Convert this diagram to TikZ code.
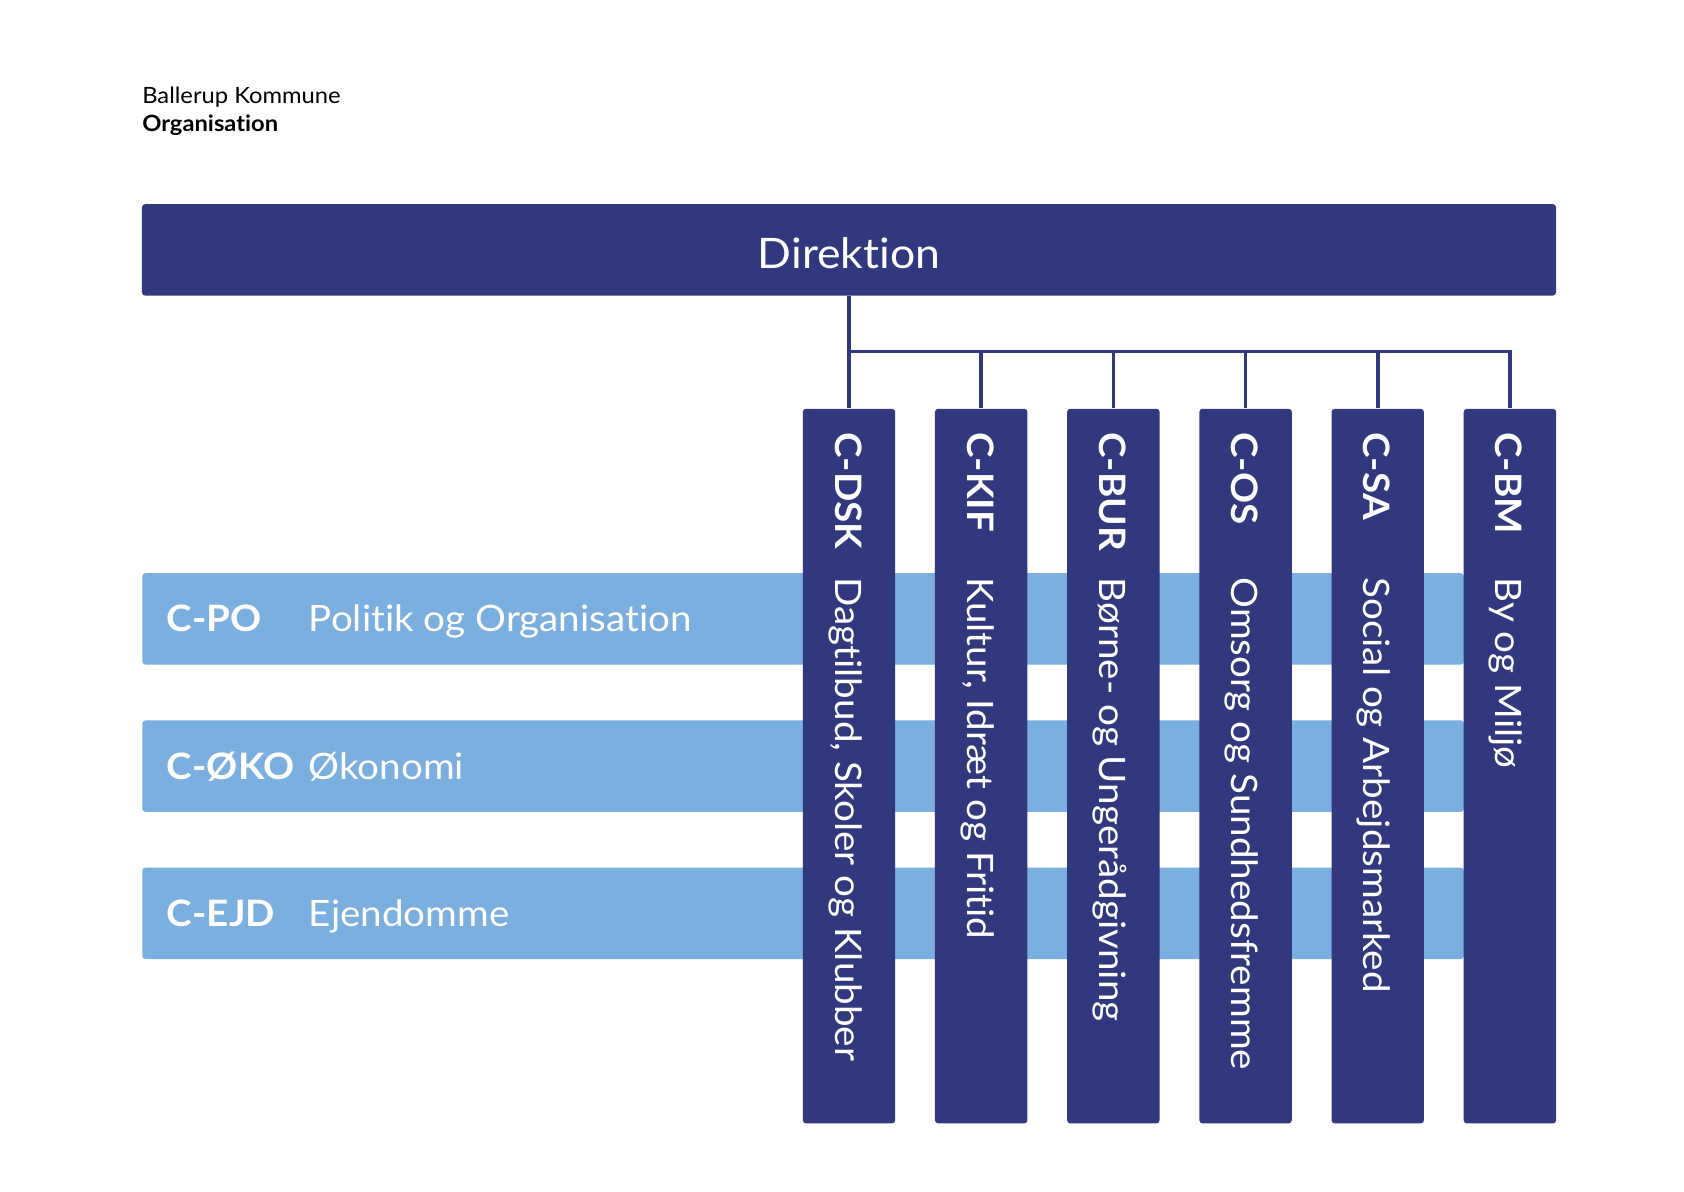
\documentclass[tikz,border=0pt]{standalone}
\usepackage{fontspec}
\setmainfont{Lato}[FakeStretch=1.06, Ligatures=CommonOff]
\usetikzlibrary{positioning}
\definecolor{balnavy}{HTML}{31387E}
\definecolor{balsky}{HTML}{7BAFDF}
\tikzset{
  unit/.style={draw=none, fill=balnavy, rounded corners=1.6pt, minimum width=46.2pt, minimum height=357.3pt, anchor=north, inner sep=0pt},
  stave/.style={draw=none, fill=balsky, rounded corners=1.6pt, minimum width=660.8pt, minimum height=45.7pt, anchor=north west, inner sep=0pt},
  unitcode/.style={text=white, font=\fontsize{18.2}{18.2}\selectfont\bfseries, rotate=-90, anchor=base west, inner sep=0pt},
  unitname/.style={text=white, font=\fontsize{18.2}{18.2}\selectfont, rotate=-90, anchor=base west, inner sep=0pt},
  stavecode/.style={text=white, font=\fontsize{18.2}{18.2}\selectfont\bfseries, anchor=base west, inner sep=0pt},
  stavename/.style={text=white, font=\fontsize{18.2}{18.2}\selectfont, anchor=base west, inner sep=0pt},
  link/.style={draw=balnavy, line width=1.8pt}
}
\begin{document}
\begin{tikzpicture}[x=0.5373pt, y=-0.5373pt]
\useasboundingbox (0,0) rectangle (1567,1108.4);

% Header
\node[anchor=base west, inner sep=0pt, font=\fontsize{11.2}{11.2}\selectfont] (town) at (132,96) {Ballerup Kommune};
\node[anchor=base west, inner sep=0pt, font=\fontsize{11.2}{11.2}\selectfont\bfseries] (org) at (132,122) {Organisation};

% Direktion
\node[draw=none, fill=balnavy, rounded corners=1.6pt, minimum width=707pt, minimum height=45.7pt, inner sep=0pt] (dir) at (790,232.5) {};
\node[text=white, anchor=base, inner sep=0pt, font=\fontsize{21}{21}\selectfont] (dirtext) at (790,250) {Direktion};

% Staff units (light bars)
\node[stave] (po) at (132,533) {};
\node[stave] (oko) at (132,670) {};
\node[stave] (ejd) at (132,807) {};
\node[stavecode] (pocode) at (155,588) {C-PO};
\node[stavename] (poname) at (287,588) {Politik og Organisation};
\node[stavecode] (okocode) at (155,725) {C-ØKO};
\node[stavename] (okoname) at (287,725) {Økonomi};
\node[stavecode] (ejdcode) at (155,862) {C-EJD};
\node[stavename] (ejdname) at (287,862) {Ejendomme};

% Centres (dark columns)
\node[unit] (dsk) at (790,380) {};
\node[unit] (kif) at (913,380) {};
\node[unit] (bur) at (1036,380) {};
\node[unit] (os) at (1159,380) {};
\node[unit] (sa) at (1282,380) {};
\node[unit] (bm) at (1405,380) {};

\node[unitcode] (dskcode) at (777,402) {C-DSK};
\node[unitname] (dskname) at (777,537) {Dagtilbud, Skoler og Klubber};
\node[unitcode] (kifcode) at (900,402) {C-KIF};
\node[unitname] (kifname) at (900,537) {Kultur, Idræt og Fritid};
\node[unitcode] (burcode) at (1023,402) {C-BUR};
\node[unitname] (burname) at (1023,537) {Børne- og Ungerådgivning};
\node[unitcode] (oscode) at (1146,402) {C-OS};
\node[unitname] (osname) at (1146,537) {Omsorg og Sundhedsfremme};
\node[unitcode] (sacode) at (1269,402) {C-SA};
\node[unitname] (saname) at (1269,537) {Social og Arbejdsmarked};
\node[unitcode] (bmcode) at (1392,402) {C-BM};
\node[unitname] (bmname) at (1392,537) {By og Miljø};

% Lines from Direktion
\coordinate (bus) at (790,327);
\draw[link] (dir.south) -- (dsk.north);
\draw[link] (bus) -| (kif.north);
\draw[link] (bus) -| (bur.north);
\draw[link] (bus) -| (os.north);
\draw[link] (bus) -| (sa.north);
\draw[link] (bus) -| (bm.north);
\end{tikzpicture}
\end{document}
